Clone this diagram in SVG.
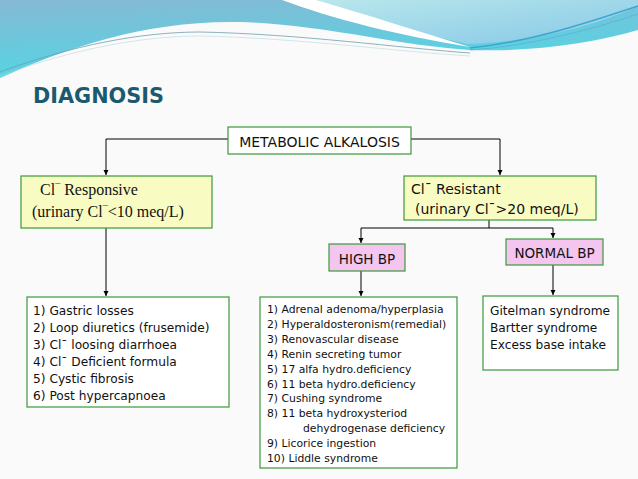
<svg xmlns="http://www.w3.org/2000/svg" width="638" height="479" viewBox="0 0 638 479">
<defs>
<linearGradient id="gA" x1="0" y1="0" x2="0.3" y2="1">
<stop offset="0" stop-color="#86b9d4"/>
<stop offset="1" stop-color="#52d6e4"/>
</linearGradient>
<linearGradient id="gB" x1="0" y1="0" x2="1" y2="1">
<stop offset="0" stop-color="#b9e7ec"/>
<stop offset="1" stop-color="#86c8e6"/>
</linearGradient>
<marker id="ah" viewBox="0 0 10 10" refX="10" refY="5" markerWidth="5" markerHeight="6" markerUnits="userSpaceOnUse" orient="auto">
<path d="M0,0 L10,5 L0,10 Z" fill="#000"/>
</marker>
</defs>
<style>
.box{stroke:#3a9a3a;stroke-width:1.2}
.yel{fill:#f9fcc2}
.pink{fill:#f4c6ef}
.wht{fill:#ffffff}
.sans{font-family:"DejaVu Sans","Verdana",sans-serif;fill:#111}
.serif{font-family:"Liberation Serif","Times New Roman",serif;fill:#111}
.con{fill:none;stroke:#000;stroke-width:1}
.mac{font-size:10px}
</style>
<rect width="638" height="479" fill="#fafafa"/>
<g id="header">
<path d="M0,0 H638 V30 C 590,44 530,52 470,50 C 400,46 320,24 240,22 C 150,20 70,46 0,78 Z" fill="url(#gA)"/>
<path d="M313,0 H638 V6 C 590,28 530,42 468,44 C 410,32 360,15 313,0 Z" fill="url(#gB)"/>
<path d="M282,0 C 330,18 400,36 470,47 C 420,32 365,14 316,0 Z" fill="#ffffff"/>
<path d="M470,48 C 530,42 590,22 638,6" fill="none" stroke="#3aa6d0" stroke-width="1.5"/>
<path d="M470,50 C 530,46 590,30 638,14" fill="none" stroke="#5ab8d8" stroke-width="1"/>
<path d="M0,72 C 70,46 140,32 200,32 C 300,34 400,48 470,53" fill="none" stroke="#6f9fae" stroke-width="0.8"/>
<path d="M0,76 C 70,50 140,36 200,36 C 300,38 400,52 470,56" fill="none" stroke="#b8d6de" stroke-width="0.6"/>
</g>
<text x="33" y="103" font-family="DejaVu Sans,Verdana,sans-serif" font-weight="bold" font-size="20.8" fill="#1b5a6e">DIAGNOSIS</text>
<g id="connectors">
<path class="con" d="M228,139 H106 V175" marker-end="url(#ah)"/>
<path class="con" d="M411,139 H500 V175" marker-end="url(#ah)"/>
<path class="con" d="M489,220 V228"/>
<path class="con" d="M361,228 H553"/>
<path class="con" d="M361,228 V243" marker-end="url(#ah)"/>
<path class="con" d="M553,228 V238" marker-end="url(#ah)"/>
<path class="con" d="M106,228 V296" marker-end="url(#ah)"/>
<path class="con" d="M361,271 V296" marker-end="url(#ah)"/>
<path class="con" d="M553,265 V295" marker-end="url(#ah)"/>
</g>
<g id="metabolic">
<rect class="box wht" x="228" y="127" width="183" height="27"/>
<text class="sans" x="319.5" y="147" font-size="14" text-anchor="middle">METABOLIC ALKALOSIS</text>
</g>
<g id="responsive">
<rect class="box yel" x="21" y="176" width="191" height="52"/>
<text class="serif" x="40" y="195" font-size="16">Cl<tspan class="mac" dy="-4">¯</tspan><tspan dy="4"> Responsive</tspan></text>
<text class="serif" x="32" y="217" font-size="16">(urinary Cl<tspan class="mac" dy="-4">¯</tspan><tspan dy="4">&lt;10 meq/L)</tspan></text>
</g>
<g id="resistant">
<rect class="box yel" x="404" y="176" width="192" height="44"/>
<text class="sans" x="411" y="194" font-size="14">Cl¯ Resistant</text>
<text class="sans" x="415" y="214" font-size="14">(urinary Cl¯&gt;20 meq/L)</text>
</g>
<g id="highbp">
<rect class="box pink" x="329" y="244" width="76" height="27"/>
<text class="sans" x="367" y="264" font-size="13.5" text-anchor="middle">HIGH BP</text>
</g>
<g id="normalbp">
<rect class="box pink" x="506" y="239" width="97" height="26"/>
<text class="sans" x="554.5" y="258" font-size="13.5" text-anchor="middle">NORMAL BP</text>
</g>
<g id="list-responsive">
<rect class="box wht" x="27" y="297" width="202" height="110"/>
<g class="sans" font-size="12.2">
<text x="33" y="315">1) Gastric losses</text>
<text x="33" y="332">2) Loop diuretics (frusemide)</text>
<text x="33" y="349">3) Cl¯ loosing diarrhoea</text>
<text x="33" y="366">4) Cl¯ Deficient formula</text>
<text x="33" y="383">5) Cystic fibrosis</text>
<text x="33" y="400">6) Post hypercapnoea</text>
</g>
</g>
<g id="list-highbp">
<rect class="box wht" x="260" y="297" width="197" height="171"/>
<g class="sans" font-size="10.8">
<text x="267" y="313">1) Adrenal adenoma/hyperplasia</text>
<text x="267" y="328">2) Hyperaldosteronism(remedial)</text>
<text x="267" y="343">3) Renovascular disease</text>
<text x="267" y="358">4) Renin secreting tumor</text>
<text x="267" y="373">5) 17 alfa hydro.deficiency</text>
<text x="267" y="388">6) 11 beta hydro.deficiency</text>
<text x="267" y="402">7) Cushing syndrome</text>
<text x="267" y="417">8) 11 beta hydroxysteriod</text>
<text x="303" y="432">dehydrogenase deficiency</text>
<text x="267" y="447">9) Licorice ingestion</text>
<text x="267" y="462">10) Liddle syndrome</text>
</g>
</g>
<g id="list-normalbp">
<rect class="box wht" x="483" y="296" width="135" height="74"/>
<g class="sans" font-size="12.2">
<text x="490" y="315">Gitelman syndrome</text>
<text x="490" y="332">Bartter syndrome</text>
<text x="490" y="349">Excess base intake</text>
</g>
</g>
</svg>
